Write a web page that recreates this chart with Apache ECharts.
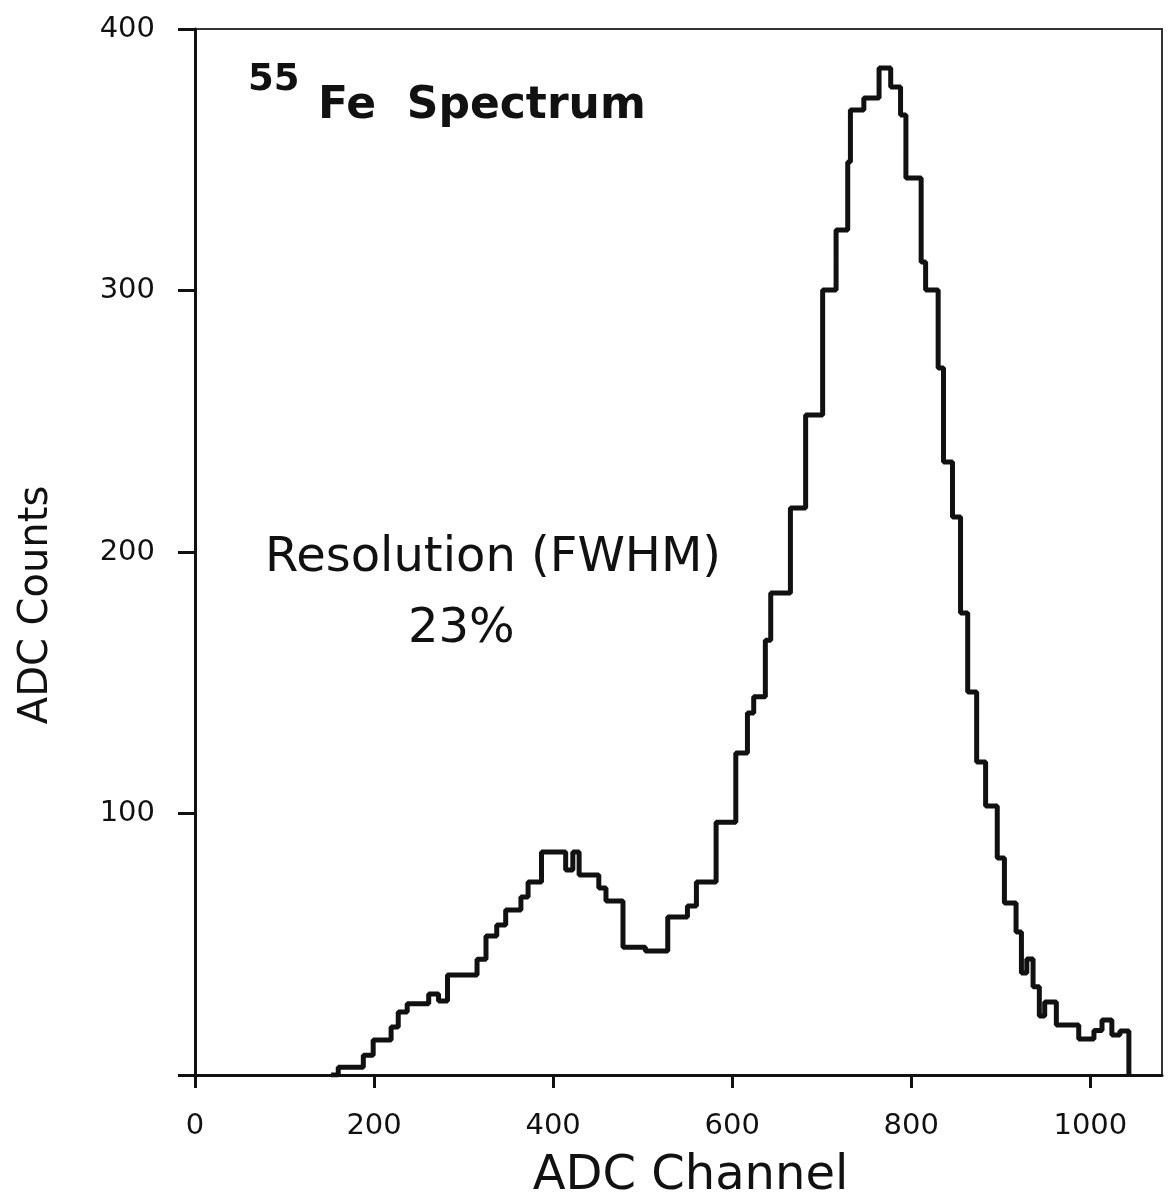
<!DOCTYPE html>
<html>
<head>
<meta charset="utf-8">
<title>55Fe Spectrum</title>
<script src="https://cdn.jsdelivr.net/npm/echarts@6/dist/echarts.min.js"></script>
<style>
  html, body { margin: 0; padding: 0; background: #fff; }
  #spectrum { width: 1173px; height: 1203px; }
</style>
</head>
<body>
<div id="spectrum"></div>
<script>
// left edge of each step (ADC channel) and its height (counts)
var channels = [152,160,188,199,219,227,237,261,272,282,
                315,325,337,347,364,372,387,414,422,429,
                451,459,478,503,528,550,560,582,604,617,
                624,637,643,665,682,701,716,729,732,747,
                764,777,788,794,811,816,830,836,846,855,
                863,873,883,896,904,917,923,929,936,943,
                949,962,987,1004,1013,1024,1033,1043];
var counts = [0,3,7.6,13.4,18.4,24.1,27.2,31,28.3,38.2,
              44.3,53.2,57.4,63.1,68.1,73.8,85.3,78.4,85.3,76.5,
              71.5,66.5,48.9,47.4,60.4,64.6,73.8,96.7,123.1,138.4,
              144.6,166.3,184.3,216.8,252.4,300.2,323.1,349.1,369,373.6,
              385.1,377.8,367.1,343,310.9,300.2,270.4,234.4,213.4,176.7,
              146.5,119.7,102.9,83,65.8,54.7,39,44.4,33.7,22.6,
              27.9,19.1,13.8,17,21,15.3,16.8,0];
var xTicks = [0,200,400,600,800,1000];
var yTicks = [0,100,200,300,400];
var yLabels = [100,200,300,400];   // no "0" printed on the count axis

var font = 'DejaVu Sans';
var ink = '#111';

var points = [];
for (var i = 0; i < channels.length; i++) {
    points.push([channels[i], counts[i]]);
}

var myChart = echarts.init(document.getElementById('spectrum'));

var option = {
    animation: false,
    backgroundColor: '#fff',
    title: [
        {
            text: '55',
            left: 248, top: 62, padding: 0,
            textStyle: { fontFamily: font, fontSize: 37, fontWeight: 'bold', color: ink }
        },
        {
            text: 'Fe  Spectrum',
            left: 318, top: 85, padding: 0,
            textStyle: { fontFamily: font, fontSize: 44, fontWeight: 'bold', color: ink }
        }
    ],
    grid: {
        left: 195, right: 11, top: 29, bottom: 128,
        outerBoundsMode: 'none',
        containLabel: false,
        show: true,
        borderColor: '#333',
        borderWidth: 2
    },
    xAxis: {
        type: 'value',
        min: 0, max: 1080,
        name: 'ADC Channel',
        nameLocation: 'middle',
        nameGap: 78,
        nameTextStyle: { fontFamily: font, fontSize: 48, color: ink, padding: [0, 0, 0, 24] },
        axisLine: { show: true, onZero: false, lineStyle: { color: ink, width: 3 } },
        axisTick: { show: true, customValues: xTicks, length: 13, lineStyle: { color: ink, width: 3 } },
        axisLabel: {
            customValues: xTicks, margin: 37, fontFamily: font, fontSize: 29, color: ink,
            formatter: function (v) { return String(v); }
        },
        splitLine: { show: false }
    },
    yAxis: {
        type: 'value',
        min: 0, max: 400,
        name: 'ADC Counts',
        nameLocation: 'middle',
        nameGap: 138,
        nameTextStyle: { fontFamily: font, fontSize: 40, color: ink, padding: [0, 106, 0, 0] },
        axisLine: { show: true, lineStyle: { color: ink, width: 3 } },
        axisTick: { show: true, customValues: yTicks, length: 17, lineStyle: { color: ink, width: 3 } },
        axisLabel: {
            customValues: yLabels, margin: 40, fontFamily: font, fontSize: 29, color: ink,
            formatter: function (v) { return String(v); }
        },
        splitLine: { show: false }
    },
    graphic: [
        {
            type: 'text',
            left: 265, top: 535,
            style: { text: 'Resolution (FWHM)', fontFamily: font, fontSize: 48, fill: ink }
        },
        {
            type: 'text',
            left: 408, top: 606,
            style: { text: '23%', fontFamily: font, fontSize: 48, fill: ink }
        }
    ],
    series: [
        {
            type: 'line',
            step: 'end',
            data: points,
            symbol: 'none',
            lineStyle: { color: ink, width: 5 }
        }
    ]
};
myChart.setOption(option);
</script>
</body>
</html>
